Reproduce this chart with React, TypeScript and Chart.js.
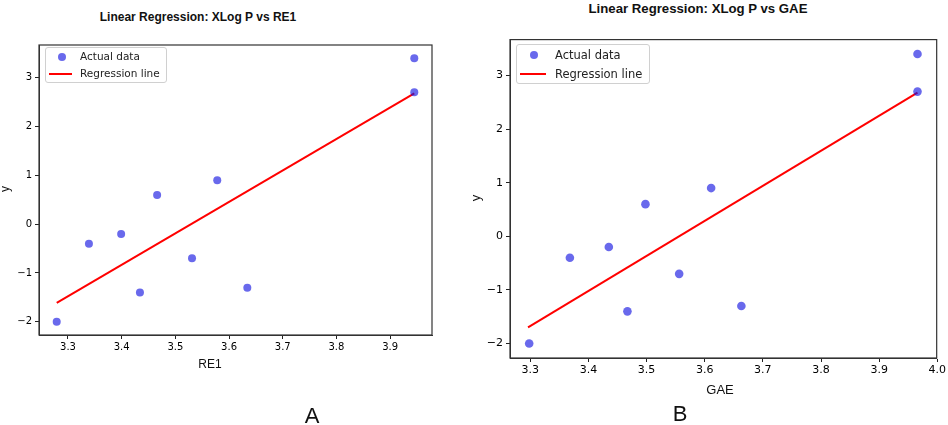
import { useEffect, useRef } from 'react';
import { Chart, registerables } from 'chart.js';

Chart.register(...registerables);

// y values (XLog P), shared by both panels
const xlogP = [-2.0, -0.4, -0.2, -1.4, 0.6, -0.7, 0.9, -1.3, 2.7, 3.4];
// descriptor values for each panel
const re1 = [3.279, 3.339, 3.399, 3.434, 3.466, 3.531, 3.578, 3.634, 3.945, 3.945];
const gae = [3.298, 3.368, 3.435, 3.467, 3.498, 3.556, 3.611, 3.663, 3.966, 3.966];
// regression line end points
const re1LineX = [3.279, 3.945];
const re1LineY = [-1.61, 2.68];
const gaeLineX = [3.296, 3.966];
const gaeLineY = [-1.7, 2.68];
// tick labels
const yTicks = [-2, -1, 0, 1, 2, 3];
const re1Ticks = [3.3, 3.4, 3.5, 3.6, 3.7, 3.8, 3.9];
const gaeTicks = [3.3, 3.4, 3.5, 3.6, 3.7, 3.8, 3.9, 4.0];

const POINT_COLOR = 'rgba(20, 20, 225, 0.64)';
const LINE_COLOR = '#ff0000';

const framePlugin = {
  id: 'frame',
  afterDatasetsDraw(chart: any) {
    const { ctx, chartArea: a } = chart;
    ctx.save();
    ctx.strokeStyle = '#333';
    ctx.lineWidth = 1.2;
    ctx.strokeRect(a.left, a.top, a.right - a.left, a.bottom - a.top);
    ctx.restore();
  },
};

const fmtMinus = (v: number) => (v < 0 ? '\u2212' + Math.abs(v) : String(v));

interface PanelProps {
  xs: number[];
  lineX: number[];
  lineY: number[];
  xTicks: number[];
  xMin: number;
  xMax: number;
  box: { left: number; top: number; width: number; height: number };
  yAxisW: number;
  xAxisH: number;
  padTop: number;
  padRight: number;
  fontSize: number;
  radius: number;
}

function Panel(p: PanelProps) {
  const ref = useRef<HTMLCanvasElement>(null);
  const chartRef = useRef<Chart | null>(null);

  useEffect(() => {
    if (!ref.current) return;
    const ctx = ref.current.getContext('2d');
    if (!ctx) return;
    if (chartRef.current) chartRef.current.destroy();

    const tickFont = { family: 'DejaVu Sans', size: p.fontSize };
    const gridOpts = {
      display: true,
      drawOnChartArea: false,
      drawTicks: true,
      tickLength: 4,
      color: '#222',
    };

    chartRef.current = new Chart(ctx, {
      type: 'scatter',
      data: {
        datasets: [
          {
            type: 'line',
            label: 'Regression line',
            data: p.lineX.map((x, i) => ({ x, y: p.lineY[i] })),
            borderColor: LINE_COLOR,
            borderWidth: 2,
            pointRadius: 0,
            fill: false,
            order: 1,
          } as any,
          {
            label: 'Actual data',
            data: p.xs.map((x, i) => ({ x, y: xlogP[i] })),
            backgroundColor: POINT_COLOR,
            borderWidth: 0,
            pointRadius: p.radius,
            order: 0,
          },
        ],
      },
      options: {
        animation: false,
        responsive: true,
        maintainAspectRatio: false,
        layout: { padding: { top: p.padTop, right: p.padRight, left: 0, bottom: 0 } },
        plugins: { legend: { display: false }, tooltip: { enabled: false } },
        scales: {
          x: {
            type: 'linear',
            min: p.xMin,
            max: p.xMax,
            afterFit: (s: any) => {
              s.height = p.xAxisH;
            },
            afterBuildTicks: (s: any) => {
              s.ticks = p.xTicks.map((value) => ({ value }));
            },
            grid: gridOpts,
            border: { display: true, color: '#333' },
            ticks: {
              color: '#000',
              font: tickFont,
              padding: 2,
              maxRotation: 0,
              autoSkip: false,
              callback: (v: any) => Number(v).toFixed(1),
            },
          },
          y: {
            type: 'linear',
            min: -2.27,
            max: 3.67,
            afterFit: (s: any) => {
              s.width = p.yAxisW;
            },
            afterBuildTicks: (s: any) => {
              s.ticks = yTicks.map((value) => ({ value }));
            },
            grid: gridOpts,
            border: { display: true, color: '#333' },
            ticks: {
              color: '#000',
              font: tickFont,
              padding: 3,
              autoSkip: false,
              callback: (v: any) => fmtMinus(Number(v)),
            },
          },
        },
      },
      plugins: [framePlugin],
    });

    return () => {
      if (chartRef.current) {
        chartRef.current.destroy();
        chartRef.current = null;
      }
    };
  }, []);

  return (
    <div style={{ position: 'absolute', ...p.box }}>
      <canvas ref={ref} />
    </div>
  );
}

function Legend({ left, top, width, height, size, textX, lineW, dot }: any) {
  return (
    <div
      style={{
        position: 'absolute',
        left,
        top,
        width,
        height,
        border: '1px solid #d0d0d0',
        borderRadius: 3,
        background: 'rgba(255,255,255,0.85)',
        fontFamily: 'DejaVu Sans',
        fontSize: size,
        color: '#222',
        boxSizing: 'border-box',
      }}
    >
      <div
        style={{
          position: 'absolute',
          left: 4 + lineW / 2 - dot / 2,
          top: height * 0.25 - dot / 2,
          width: dot,
          height: dot,
          borderRadius: dot / 2,
          background: POINT_COLOR,
        }}
      />
      <div style={{ position: 'absolute', left: textX, top: height * 0.25 - size * 0.62, whiteSpace: 'nowrap' }}>
        Actual data
      </div>
      <div
        style={{
          position: 'absolute',
          left: 3,
          top: height * 0.72 - 1,
          width: lineW,
          height: 2,
          background: LINE_COLOR,
        }}
      />
      <div style={{ position: 'absolute', left: textX, top: height * 0.72 - size * 0.62, whiteSpace: 'nowrap' }}>
        Regression line
      </div>
    </div>
  );
}

const label = (text: string, x: number, y: number, size: number, extra: any = {}) => (
  <div
    style={{
      position: 'absolute',
      left: x,
      top: y,
      transform: 'translate(-50%, -50%)',
      fontSize: size,
      whiteSpace: 'nowrap',
      color: '#111',
      fontFamily: 'Liberation Sans',
      lineHeight: 1,
      ...extra,
    }}
  >
    {text}
  </div>
);

export default function App() {
  return (
    <div style={{ position: 'fixed', left: 0, top: 0, width: 948, height: 425, background: '#fff', overflow: 'hidden' }}>
      {label('Linear Regression: XLog P vs RE1', 198, 17, 12, { fontWeight: 'bold' })}
      {label('Linear Regression: XLog P vs GAE', 698, 9, 13.2, { fontWeight: 'bold' })}

      <Panel
        xs={re1}
        lineX={re1LineX}
        lineY={re1LineY}
        xTicks={re1Ticks}
        xMin={3.246}
        xMax={3.978}
        box={{ left: 0, top: 36, width: 442, height: 326 }}
        yAxisW={39}
        xAxisH={27}
        padTop={6}
        padRight={10}
        fontSize={10}
        radius={4}
      />
      <Panel
        xs={gae}
        lineX={gaeLineX}
        lineY={gaeLineY}
        xTicks={gaeTicks}
        xMin={3.265}
        xMax={3.999}
        box={{ left: 470, top: 30, width: 478, height: 358 }}
        yAxisW={40}
        xAxisH={30}
        padTop={8}
        padRight={8}
        fontSize={11}
        radius={4.3}
      />

      <Legend left={45} top={47} width={122} height={36} size={10.5} textX={34} lineW={23} dot={8} />
      <Legend left={516} top={44} width={134} height={40} size={11.5} textX={38} lineW={26} dot={8.6} />

      {label('y', 5, 189, 12, { transform: 'translate(-50%, -50%) rotate(-90deg)' })}
      {label('y', 475, 198, 13, { transform: 'translate(-50%, -50%) rotate(-90deg)' })}
      {label('RE1', 210, 364, 12)}
      {label('GAE', 720, 389, 13)}
      {label('A', 312, 416, 22)}
      {label('B', 680, 414, 22)}
    </div>
  );
}
